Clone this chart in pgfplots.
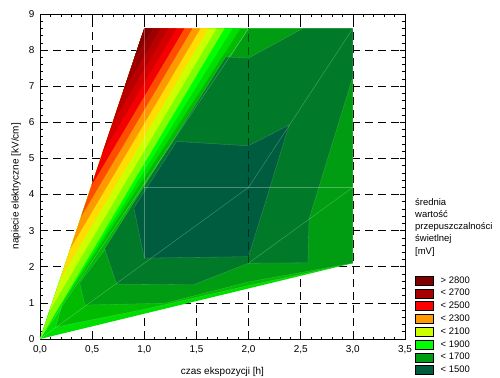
\documentclass[border=0pt]{standalone}
\usepackage{fontspec}
\setmainfont{Liberation Sans}
\usepackage{pgfplots}
\pgfplotsset{compat=1.18}
\definecolor{c1}{HTML}{800000}
\definecolor{c2}{HTML}{9C0000}
\definecolor{c3}{HTML}{B80000}
\definecolor{c4}{HTML}{D40000}
\definecolor{c5}{HTML}{F40000}
\definecolor{c6}{HTML}{FF4D00}
\definecolor{c7}{HTML}{FF9900}
\definecolor{c8}{HTML}{FFDD00}
\definecolor{c9}{HTML}{CCFF00}
\definecolor{c10}{HTML}{80FF00}
\definecolor{c11}{HTML}{00FF00}
\definecolor{c12}{HTML}{00DD00}
\definecolor{c13}{HTML}{00BB00}
\definecolor{c14}{HTML}{009C12}
\definecolor{c15}{HTML}{007A28}
\definecolor{c16}{HTML}{005C3E}
\definecolor{l2}{HTML}{A80000}
\definecolor{l3}{HTML}{FF0000}
\begin{document}
\begin{tikzpicture}
\useasboundingbox (-40bp,-39bp) rectangle (460bp,339bp);
\begin{axis}[
  at={(0bp,0bp)}, anchor=south west,
  scale only axis, width=365bp, height=325bp,
  xmin=0, xmax=3.5, ymin=0, ymax=9,
  xtick={0,0.5,...,3.5}, ytick={0,1,...,9},
  minor x tick num=4, minor y tick num=4,
  tick align=inside, tick pos=both,
  major tick length=5bp, minor tick length=2.5bp,
  every tick/.style={black, line width=0.6bp},
  axis line style={black, line width=0.8bp},
  grid=major,
  major grid style={black, line width=0.7bp, dash pattern=on 8bp off 5bp},
  scaled ticks=false,
  xticklabel style={/pgf/number format/fixed, /pgf/number format/fixed zerofill, /pgf/number format/precision=1, /pgf/number format/use comma, /pgf/number format/assume math mode=true, yshift=-3bp},
  yticklabel style={/pgf/number format/assume math mode=true, xshift=-2bp},
  tick label style={font=\fontsize{10}{12}\selectfont},
  xlabel={czas ekspozycji [h]},
  ylabel={napiecie elektryczne [kV/cm]},
  label style={font=\fontsize{10}{12}\selectfont},
  x label style={at={(axis description cs:0.5,-0.1006)}, anchor=center},
  y label style={at={(axis description cs:-0.0658,0.47)}, anchor=center},
  legend style={at={(axis description cs:1.027,0.195)}, anchor=north west, draw=none, fill=none,
    inner sep=0pt, font=\fontsize{9.5}{11}\selectfont, row sep=3.2bp, column sep=7bp,
    nodes={inner sep=0pt, anchor=west}},
  legend cell align=left,
  legend image code/.code={\draw[#1, draw=black, line width=0.6bp] (0bp,-4.5bp) rectangle (18bp,4.5bp);},
]
% hull
\addplot[forget plot, fill=c12, draw=none] coordinates {(0,0) (1,8.6) (3,8.6) (3,2.1)} --cycle;
% bottom / right bands
\addplot[forget plot, fill=c13, draw=white, draw opacity=0.25, line width=0.3bp] coordinates {(0.15,0.33) (1.0,0.82) (2.0,1.48) (3,2.1) (3,8.6) (1,8.6)} --cycle;
\addplot[forget plot, fill=c14, draw=white, draw opacity=0.25, line width=0.3bp] coordinates {(0.43,0.94) (1.2,0.99) (2.0,1.58) (3,2.1) (3,8.6) (2,8.6) (0.62,2.47) (0.38,1.55)} --cycle;
\addplot[forget plot, fill=c15, draw=white, draw opacity=0.25, line width=0.3bp] coordinates {(1.78,7.81) (2.0,7.78) (2.52,8.6) (3,8.6) (3,7.26) (2.58,3.32) (2.57,2.11) (2.0,2.1) (1.47,1.5) (0.735,1.52) (0.62,2.5)} --cycle;
\addplot[forget plot, fill=c16, draw=white, draw opacity=0.25, line width=0.3bp] coordinates {(1.31,5.47) (2.0,5.35) (2.39,5.93) (2.0,2.28) (1.0,2.24) (0.90,3.63)} --cycle;
% strip bands
\addplot[forget plot, fill=c12, draw=none] coordinates {(0,0) (1,8.6) (1.9231,8.6)} --cycle;
\addplot[forget plot, fill=c11, draw=none] coordinates {(0,0) (1,8.6) (1.8462,8.6)} --cycle;
\addplot[forget plot, fill=c10, draw=none] coordinates {(0,0) (1,8.6) (1.7692,8.6)} --cycle;
\addplot[forget plot, fill=c9, draw=none] coordinates {(0.0895,0.77) (1,8.6) (1.6923,8.6)} --cycle;
\addplot[forget plot, fill=c8, draw=none] coordinates {(0.191,1.64) (1,8.6) (1.6154,8.6)} --cycle;
\addplot[forget plot, fill=c7, draw=none] coordinates {(0.292,2.51) (1,8.6) (1.5385,8.6)} --cycle;
\addplot[forget plot, fill=c6, draw=none] coordinates {(0.393,3.38) (1,8.6) (1.4615,8.6)} --cycle;
\addplot[forget plot, fill=c5, draw=none] coordinates {(0.494,4.25) (1,8.6) (1.3846,8.6)} --cycle;
\addplot[forget plot, fill=c4, draw=none] coordinates {(0.595,5.12) (1,8.6) (1.3077,8.6)} --cycle;
\addplot[forget plot, fill=c3, draw=none] coordinates {(0.697,5.99) (1,8.6) (1.2308,8.6)} --cycle;
\addplot[forget plot, fill=c2, draw=none] coordinates {(0.798,6.86) (1,8.6) (1.1538,8.6)} --cycle;
\addplot[forget plot, fill=c1, draw=none] coordinates {(0.899,7.73) (1,8.6) (1.0769,8.6)} --cycle;
% faint triangulation seams
\addplot[forget plot, white, opacity=0.3, line width=0.4bp] coordinates {(0,0) (2,8.6)};
\addplot[forget plot, white, opacity=0.3, line width=0.4bp] coordinates {(0,0) (2,4.2)};
\addplot[forget plot, white, opacity=0.3, line width=0.4bp] coordinates {(1,2.24) (1,8.6)};
\addplot[forget plot, white, opacity=0.3, line width=0.4bp] coordinates {(1,4.2) (3,4.2)};
\addplot[forget plot, white, opacity=0.3, line width=0.4bp] coordinates {(2,4.2) (3,8.6)};
\addplot[forget plot, white, opacity=0.3, line width=0.4bp] coordinates {(2,2.1) (3,4.2)};
\addplot[forget plot, black, opacity=0.5, line width=0.6bp, dash pattern=on 8bp off 5bp] coordinates {(2,2.1) (2,8.6)};
% legend
\addlegendimage{fill=c1}\addlegendentry{> 2800}
\addlegendimage{fill=l2}\addlegendentry{< 2700}
\addlegendimage{fill=l3}\addlegendentry{< 2500}
\addlegendimage{fill=c7}\addlegendentry{< 2300}
\addlegendimage{fill=c9}\addlegendentry{< 2100}
\addlegendimage{fill=c11}\addlegendentry{< 1900}
\addlegendimage{fill=c14}\addlegendentry{< 1700}
\addlegendimage{fill=c16}\addlegendentry{< 1500}
\end{axis}
\node[anchor=north west, inner sep=0pt, align=left, font=\fontsize{9.5}{12.3}\selectfont] at (375bp,141bp) {średnia\\wartość\\przepuszczalności\\świetlnej\\{}[mV]};
\end{tikzpicture}
\end{document}
